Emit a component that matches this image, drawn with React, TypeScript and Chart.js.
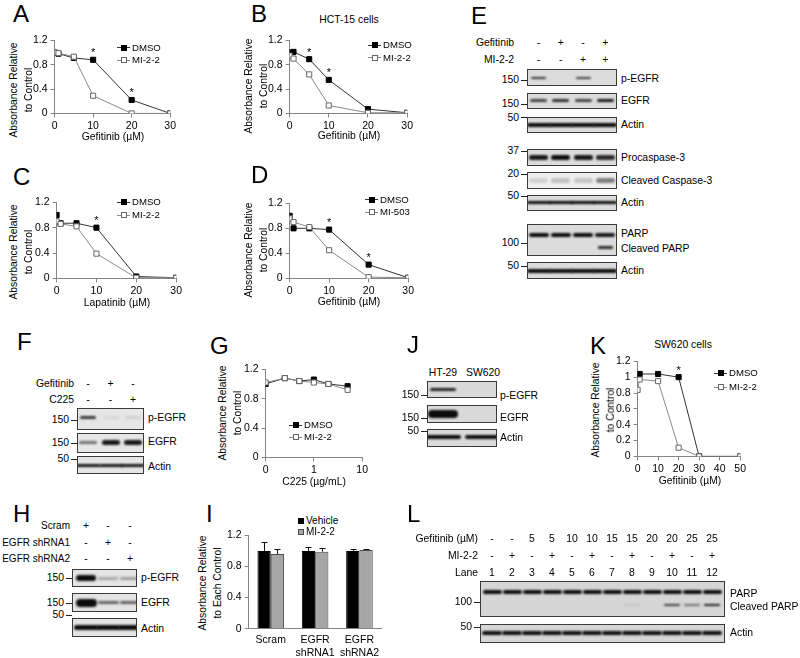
import React, { useEffect, useRef } from "react";
import { Chart, registerables } from "chart.js";
Chart.register(...registerables);

const FONT = "'Liberation Sans', Arial, Helvetica, sans-serif";
Chart.defaults.font.family = FONT;
Chart.defaults.color = "#000";

// ---------------- data ----------------
const Y_MAX = 1.2;
const Y_STEP = 0.2;

const A_X = [0, 1, 5, 10, 20, 30];
const A_DMSO = [1.0, 0.98, 0.91, 0.88, 0.22, 0.0];
const A_MI22 = [1.0, 0.99, 0.93, 0.29, 0.0, 0.0];
const A_STARS = [10, 20];

const B_X = [0, 1, 5, 10, 20, 30];
const B_DMSO = [1.0, 1.01, 0.89, 0.55, 0.07, 0.01];
const B_MI22 = [0.95, 0.9, 0.64, 0.13, 0.01, 0.01];
const B_STARS = [5, 10];

const C_X = [0, 1, 5, 10, 20, 30];
const C_DMSO = [1.0, 0.87, 0.87, 0.8, 0.03, 0.01];
const C_MI22 = [0.9, 0.86, 0.82, 0.39, 0.01, 0.01];
const C_STARS = [10];

const D_X = [0, 1, 5, 10, 20, 30];
const D_DMSO = [1.0, 0.8, 0.8, 0.78, 0.22, 0.01];
const D_MI503 = [0.96, 0.9, 0.82, 0.45, 0.02, 0.01];
const D_STARS = [10, 20];

const G_X = [0, 0.25, 0.5, 1, 2, 5];
const G_DMSO = [1.0, 1.08, 1.04, 1.06, 1.0, 0.97];
const G_MI22 = [1.02, 1.08, 1.04, 1.02, 1.0, 0.92];
const G_AXIS_MIN = 0.1;
const G_AXIS_MAX = 10;
const G_TICKS = [0.1, 1, 10];
const G_TICK_LABELS = ["0", "1", "10"];

const K_X = [0, 1, 10, 20, 30, 50];
const K_DMSO = [1.0, 1.04, 1.04, 1.0, 0.0, 0.0];
const K_MI22 = [0.84, 0.97, 0.95, 0.11, 0.0, 0.0];
const K_STARS = [20];

const I_CATS = [["Scram"], ["EGFR", "shRNA1"], ["EGFR", "shRNA2"]];
const I_VEHICLE = [1.0, 1.0, 1.0];
const I_VEHICLE_ERR = [0.11, 0.05, 0.03];
const I_MI22 = [0.96, 0.99, 1.01];
const I_MI22_ERR = [0.06, 0.05, 0.01];

// blot band intensities (0..1)
const E_GEF = ["-", "+", "-", "+"];
const E_MI = ["-", "-", "+", "+"];
const E_PEGFR = [0.8, 0, 0.75, 0];
const E_EGFR = [0.75, 0.85, 0.75, 0.95];
const E_ACTIN1 = [1, 1, 1, 1];
const E_PROCASP3 = [0.95, 1, 0.95, 0.85];
const E_CLCASP3 = [0.12, 0.2, 0.18, 0.5];
const E_ACTIN2 = [1, 1, 1, 1];
const E_PARP = [1, 1, 1, 0.95];
const E_CLPARP = [0, 0, 0, 0.85];
const E_ACTIN3 = [1, 1, 1, 1];

const F_GEF = ["-", "+", "-"];
const F_C225 = ["-", "-", "+"];
const F_PEGFR = [0.8, 0.07, 0.1];
const F_EGFR = [0.55, 0.95, 0.95];
const F_ACTIN = [0.95, 0.95, 0.95];

const H_SCRAM = ["+", "-", "-"];
const H_SH1 = ["-", "+", "-"];
const H_SH2 = ["-", "-", "+"];
const H_PEGFR = [1, 0.28, 0.32];
const H_EGFR = [1, 0.6, 0.6];
const H_ACTIN = [1, 1, 1];

const J_LINES = ["HT-29", "SW620"];
const J_PEGFR = [0.9, 0];
const J_EGFR = [1, 0];
const J_ACTIN = [1, 1];

const L_GEF = ["-", "-", "5", "5", "10", "10", "15", "15", "20", "20", "25", "25"];
const L_MI = ["-", "+", "-", "+", "-", "+", "-", "+", "-", "+", "-", "+"];
const L_LANE = ["1", "2", "3", "4", "5", "6", "7", "8", "9", "10", "11", "12"];
const L_PARP = [1, 1, 1, 1, 1, 1, 1, 1, 1, 1, 1, 1];
const L_CLPARP = [0, 0, 0, 0, 0, 0, 0, 0.08, 0, 0.75, 0.5, 0.9];
const L_ACTIN = [1, 1, 1, 1, 1, 1, 1, 1, 1, 1, 1, 1];

// ---------------- chart helpers ----------------
const AX = "#858585";
const TICK_FONT = { size: 10.5, family: FONT };

const starPlugin: any = {
  id: "stars",
  afterDatasetsDraw(chart: any, _a: any, opts: any) {
    if (!opts || !opts.xs) return;
    const { ctx } = chart;
    const xs = chart.scales.x;
    const ys = chart.scales.y;
    ctx.save();
    ctx.font = `11px ${FONT}`;
    ctx.fillStyle = "#000";
    ctx.textAlign = "center";
    ctx.textBaseline = "alphabetic";
    for (const xv of opts.xs) {
      let top = -Infinity;
      chart.data.datasets.forEach((ds: any) =>
        ds.data.forEach((p: any) => {
          if (p.x === xv) top = Math.max(top, p.y);
        })
      );
      if (!isFinite(top)) continue;
      ctx.fillText("*", xs.getPixelForValue(xv), ys.getPixelForValue(top) - 3.5);
    }
    ctx.restore();
  },
};

const errPlugin: any = {
  id: "errbars",
  afterDatasetsDraw(chart: any) {
    const { ctx } = chart;
    const ys = chart.scales.y;
    ctx.save();
    ctx.strokeStyle = "#111";
    ctx.lineWidth = 1;
    chart.data.datasets.forEach((ds: any, i: number) => {
      const meta = chart.getDatasetMeta(i);
      meta.data.forEach((bar: any, j: number) => {
        const v = ds.data[j];
        const e = ds.errors[j];
        const x = Math.round(bar.x) + 0.5;
        const y0 = ys.getPixelForValue(v);
        const y1 = Math.round(ys.getPixelForValue(v + e)) + 0.5;
        ctx.beginPath();
        ctx.moveTo(x, y0);
        ctx.lineTo(x, y1);
        ctx.moveTo(x - 3, y1);
        ctx.lineTo(x + 3, y1);
        ctx.stroke();
      });
    });
    ctx.restore();
  },
};

function yScale(): any {
  return {
    type: "linear",
    min: 0,
    max: Y_MAX,
    ticks: {
      stepSize: Y_STEP,
      font: TICK_FONT,
      color: "#000",
      padding: 3,
      callback: (v: number) => String(Math.round(v * 10) / 10),
    },
    grid: { drawOnChartArea: false, drawTicks: true, tickLength: 4, color: AX, tickColor: AX },
    border: { display: true, color: AX, width: 1 },
  };
}

function linXScale(min: number, max: number, step: number): any {
  return {
    type: "linear",
    min,
    max,
    ticks: { stepSize: step, font: TICK_FONT, color: "#000", padding: 2 },
    grid: { drawOnChartArea: false, drawTicks: true, tickLength: 4, color: AX, tickColor: AX },
    border: { display: true, color: AX, width: 1 },
  };
}

function logXScale(): any {
  return {
    type: "logarithmic",
    min: G_AXIS_MIN,
    max: G_AXIS_MAX,
    afterBuildTicks: (axis: any) => {
      axis.ticks = G_TICKS.map((v) => ({ value: v }));
    },
    ticks: {
      font: TICK_FONT,
      color: "#000",
      padding: 2,
      callback: (v: number) => {
        const k = G_TICKS.findIndex((t) => Math.abs(t - v) < 1e-9);
        return k >= 0 ? G_TICK_LABELS[k] : "";
      },
    },
    grid: { drawOnChartArea: false, drawTicks: true, tickLength: 4, color: AX, tickColor: AX },
    border: { display: true, color: AX, width: 1 },
  };
}

function lineConfig(xs: number[], dmso: number[], other: number[], xScale: any, stars: number[], mapX?: (x: number) => number) {
  const mx = mapX || ((x: number) => x);
  const pts = (ys: number[]) => xs.map((x, i) => ({ x: mx(x), y: ys[i] }));
  return {
    type: "line",
    data: {
      datasets: [
        {
          label: "treated",
          data: pts(other),
          borderColor: "#8a8a8a",
          borderWidth: 1,
          pointStyle: "rect",
          pointRadius: 3.6,
          pointBackgroundColor: "#fff",
          pointBorderColor: "#666",
          pointBorderWidth: 1,
          tension: 0,
        },
        {
          label: "DMSO",
          data: pts(dmso),
          borderColor: "#333",
          borderWidth: 1,
          pointStyle: "rect",
          pointRadius: 3.6,
          pointBackgroundColor: "#000",
          pointBorderColor: "#000",
          pointBorderWidth: 1,
          tension: 0,
        },
      ],
    },
    options: {
      responsive: false,
      maintainAspectRatio: false,
      animation: false,
      events: [],
      layout: { padding: 0 },
      plugins: { legend: { display: false }, tooltip: { enabled: false }, stars: { xs: stars } },
      scales: { x: xScale, y: yScale() },
    },
    plugins: [starPlugin],
  };
}

function barConfig() {
  return {
    type: "bar",
    data: {
      labels: I_CATS,
      datasets: [
        {
          label: "Vehicle",
          data: I_VEHICLE,
          errors: I_VEHICLE_ERR,
          backgroundColor: "#000",
          borderColor: "#000",
          borderWidth: 1,
          barPercentage: 1,
          categoryPercentage: 0.6,
        },
        {
          label: "MI-2-2",
          data: I_MI22,
          errors: I_MI22_ERR,
          backgroundColor: "#a6a6a6",
          borderColor: "#4a4a4a",
          borderWidth: 1,
          barPercentage: 1,
          categoryPercentage: 0.6,
        },
      ],
    },
    options: {
      responsive: false,
      maintainAspectRatio: false,
      animation: false,
      events: [],
      layout: { padding: 0 },
      plugins: { legend: { display: false }, tooltip: { enabled: false } },
      scales: {
        x: {
          type: "category",
          grid: { display: false, drawTicks: false },
          border: { display: true, color: AX, width: 1 },
          ticks: { font: { size: 10.5, family: FONT, lineHeight: 1.25 }, color: "#000", padding: 5, maxRotation: 0 },
        },
        y: yScale(),
      },
    },
    plugins: [errPlugin],
  };
}

type Area = { x: number; y: number; w: number; h: number };

function ChartBox({ area, make }: { area: Area; make: () => any }) {
  const wrapRef = useRef<HTMLDivElement>(null);
  const cvRef = useRef<HTMLCanvasElement>(null);
  useEffect(() => {
    const cv = cvRef.current as HTMLCanvasElement;
    const wrap = wrapRef.current as HTMLDivElement;
    const chart: any = new Chart(cv, make());
    for (let i = 0; i < 4; i++) {
      const ca = chart.chartArea;
      const dw = area.w - (ca.right - ca.left);
      const dh = area.h - (ca.bottom - ca.top);
      if (Math.abs(dw) < 0.5 && Math.abs(dh) < 0.5) break;
      chart.resize(Math.round(chart.width + dw), Math.round(chart.height + dh));
    }
    const ca = chart.chartArea;
    wrap.style.left = `${area.x - ca.left}px`;
    wrap.style.top = `${area.y - ca.top}px`;
    return () => chart.destroy();
  }, []);
  return (
    <div ref={wrapRef} style={{ position: "absolute", left: 0, top: 0 }}>
      <canvas ref={cvRef} width={area.w + 60} height={area.h + 40} />
    </div>
  );
}

// ---------------- html helpers ----------------
function T({ x, y, a = "l", s = 10.4, children }: any) {
  const tx = a === "l" ? "0" : a === "c" ? "-50%" : "-100%";
  return (
    <div
      style={{
        position: "absolute",
        left: x,
        top: y,
        transform: `translate(${tx},-50%)`,
        fontSize: s,
        lineHeight: 1,
        whiteSpace: "nowrap",
        fontFamily: FONT,
        color: "#000",
      }}
    >
      {children}
    </div>
  );
}

function Letter({ x, y, children }: any) {
  return (
    <T x={x} y={y} s={24}>
      {children}
    </T>
  );
}

function VTitle({ xs, y, lines, s = 10.3 }: any) {
  return (
    <>
      {lines.map((t: string, i: number) => (
        <div
          key={i}
          style={{
            position: "absolute",
            left: xs[i],
            top: y,
            transform: "translate(-50%,-50%) rotate(-90deg)",
            fontSize: s,
            lineHeight: 1,
            whiteSpace: "nowrap",
            fontFamily: FONT,
          }}
        >
          {t}
        </div>
      ))}
    </>
  );
}

function Leg({ x, y, rows, dy = 13 }: any) {
  return (
    <>
      {rows.map((r: any, i: number) => {
        const cy = y + i * dy;
        return (
          <React.Fragment key={i}>
            <div style={{ position: "absolute", left: x - 15, top: cy - 0.5, width: 13, height: 1, background: r.filled ? "#333" : "#8a8a8a" }} />
            <div
              style={{
                position: "absolute",
                left: x - 11.5,
                top: cy - 3,
                width: 6,
                height: 6,
                boxSizing: "border-box",
                background: r.filled ? "#000" : "#fff",
                border: `1px solid ${r.filled ? "#000" : "#666"}`,
              }}
            />
            <T x={x} y={cy} s={9.6}>
              {r.label}
            </T>
          </React.Fragment>
        );
      })}
    </>
  );
}

function lanes(x0: number, dx: number, n: number) {
  return Array.from({ length: n }, (_, i) => x0 + i * dx);
}

function Blot({ x, y, w, h, bg = "#dcdcdc", centers, bands }: any) {
  return (
    <div
      style={{
        position: "absolute",
        left: x,
        top: y,
        width: w,
        height: h,
        boxSizing: "border-box",
        border: "1px solid #3a3a3a",
        background: bg,
        overflow: "hidden",
      }}
    >
      {bands.map((b: any, bi: number) =>
        b.v.map((v: number, i: number) => {
          if (v <= 0.01) return null;
          const t = Array.isArray(b.t) ? b.t[i] : b.t;
          return (
            <div
              key={`${bi}-${i}`}
              style={{
                position: "absolute",
                left: centers[i] - b.w / 2 - x - 1,
                top: b.y - t / 2 - y - 1,
                width: b.w,
                height: t,
                borderRadius: t / 2,
                background: `rgba(12,12,12,${v})`,
                filter: "blur(0.8px)",
              }}
            />
          );
        })
      )}
    </div>
  );
}

function Mw({ bx, y, label }: any) {
  return (
    <>
      <T x={bx - 8} y={y} a="r">
        {label}
      </T>
      <div style={{ position: "absolute", left: bx - 6, top: y - 0.5, width: 6, height: 1, background: "#222" }} />
    </>
  );
}

function Signs({ centers, y, vals, s = 10.4 }: any) {
  return (
    <>
      {vals.map((v: string, i: number) => (
        <T key={i} x={centers[i]} y={y} a="c" s={s}>
          {v}
        </T>
      ))}
    </>
  );
}

// ---------------- layout ----------------
const A_AREA = { x: 55, y: 40, w: 116, h: 73 };
const B_AREA = { x: 290, y: 40, w: 118, h: 73 };
const C_AREA = { x: 57, y: 202, w: 120, h: 76 };
const D_AREA = { x: 290, y: 203, w: 119, h: 75 };
const G_AREA = { x: 266, y: 369, w: 97, h: 88 };
const K_AREA = { x: 638, y: 361, w: 103, h: 95 };
const I_AREA = { x: 249, y: 535, w: 133, h: 93 };

const TITLE2 = ["Absorbance Relative", "to Control"];

export default function App() {
  const eC = lanes(538.5, 22.3, 4);
  const fC = lanes(88, 22.5, 3);
  const hC = lanes(86, 22, 3);
  const jC = lanes(443, 40, 2);
  const lC = lanes(492, 20, 12);

  return (
    <div
      style={{
        position: "absolute",
        left: 0,
        top: 0,
        width: 800,
        height: 658,
        background: "#fff",
        overflow: "hidden",
        fontFamily: FONT,
      }}
    >
      {/* ---------- A ---------- */}
      <Letter x={13} y={14}>A</Letter>
      <ChartBox area={A_AREA} make={() => lineConfig(A_X, A_DMSO, A_MI22, linXScale(0, 30, 10), A_STARS)} />
      <VTitle xs={[14, 29]} y={90} lines={TITLE2} />
      <T x={113} y={137} a="c">Gefitinib (µM)</T>
      <Leg x={132} y={47.5} dy={12.5} rows={[{ label: "DMSO", filled: true }, { label: "MI-2-2", filled: false }]} />

      {/* ---------- B ---------- */}
      <Letter x={251} y={14}>B</Letter>
      <T x={349} y={20} a="c">HCT-15 cells</T>
      <ChartBox area={B_AREA} make={() => lineConfig(B_X, B_DMSO, B_MI22, linXScale(0, 30, 10), B_STARS)} />
      <VTitle xs={[249, 264]} y={86} lines={TITLE2} />
      <T x={349} y={136} a="c">Gefitinib (µM)</T>
      <Leg x={383} y={45} dy={12.5} rows={[{ label: "DMSO", filled: true }, { label: "MI-2-2", filled: false }]} />

      {/* ---------- C ---------- */}
      <Letter x={13} y={177}>C</Letter>
      <ChartBox area={C_AREA} make={() => lineConfig(C_X, C_DMSO, C_MI22, linXScale(0, 30, 10), C_STARS)} />
      <VTitle xs={[14, 29]} y={252} lines={TITLE2} />
      <T x={117} y={303} a="c">Lapatinib (µM)</T>
      <Leg x={132} y={202} dy={13} rows={[{ label: "DMSO", filled: true }, { label: "MI-2-2", filled: false }]} />

      {/* ---------- D ---------- */}
      <Letter x={251} y={175}>D</Letter>
      <ChartBox area={D_AREA} make={() => lineConfig(D_X, D_DMSO, D_MI503, linXScale(0, 30, 10), D_STARS)} />
      <VTitle xs={[249, 264]} y={250} lines={TITLE2} />
      <T x={349} y={302} a="c">Gefitinib (µM)</T>
      <Leg x={380} y={199.5} dy={12.5} rows={[{ label: "DMSO", filled: true }, { label: "MI-503", filled: false }]} />

      {/* ---------- E ---------- */}
      <Letter x={471} y={16}>E</Letter>
      <T x={514} y={43} a="r">Gefitinib</T>
      <T x={514} y={60} a="r">MI-2-2</T>
      <Signs centers={eC} y={43} vals={E_GEF} />
      <Signs centers={eC} y={60} vals={E_MI} />
      <Blot x={527} y={69} w={90} h={17} centers={eC} bands={[{ y: 78, v: E_PEGFR, t: 2.5, w: 15 }]} />
      <Blot x={527} y={93} w={90} h={16} centers={eC} bands={[{ y: 100.5, v: E_EGFR, t: 3.5, w: 17 }]} />
      <Blot x={527} y={117} w={90} h={16} centers={eC} bands={[{ y: 125, v: E_ACTIN1, t: 4, w: 24 }]} />
      <Blot x={527} y={149} w={90} h={17} centers={eC} bands={[{ y: 157.5, v: E_PROCASP3, t: 4.5, w: 19 }]} />
      <Blot x={527} y={172} w={90} h={17} bg="#efefef" centers={eC} bands={[{ y: 180.5, v: E_CLCASP3, t: 5, w: 19 }]} />
      <Blot x={527} y={195} w={90} h={16} centers={eC} bands={[{ y: 202.5, v: E_ACTIN2, t: 3.5, w: 24 }]} />
      <Blot
        x={527}
        y={224}
        w={90}
        h={32}
        centers={eC}
        bands={[
          { y: 235, v: E_PARP, t: 4.5, w: 20 },
          { y: 247.5, v: E_CLPARP, t: 2.5, w: 15 },
        ]}
      />
      <Blot x={527} y={262} w={90} h={17} centers={eC} bands={[{ y: 270.5, v: E_ACTIN3, t: 4, w: 24 }]} />
      <Mw bx={527} y={80} label="150" />
      <Mw bx={527} y={104} label="150" />
      <Mw bx={527} y={117.5} label="50" />
      <Mw bx={527} y={151} label="37" />
      <Mw bx={527} y={174} label="20" />
      <Mw bx={527} y={196} label="50" />
      <Mw bx={527} y={243} label="100" />
      <Mw bx={527} y={266} label="50" />
      <T x={621} y={79}>p-EGFR</T>
      <T x={621} y={101}>EGFR</T>
      <T x={621} y={125}>Actin</T>
      <T x={621} y={158}>Procaspase-3</T>
      <T x={621} y={181}>Cleaved Caspase-3</T>
      <T x={621} y={203}>Actin</T>
      <T x={621} y={234}>PARP</T>
      <T x={621} y={249}>Cleaved PARP</T>
      <T x={621} y={271}>Actin</T>

      {/* ---------- F ---------- */}
      <Letter x={17} y={342}>F</Letter>
      <T x={74} y={384} a="r">Gefitinib</T>
      <T x={74} y={400} a="r">C225</T>
      <Signs centers={fC} y={384} vals={F_GEF} />
      <Signs centers={fC} y={400} vals={F_C225} />
      <Blot x={77} y={408} w={67} h={22} bg="#e6e6e6" centers={fC} bands={[{ y: 417, v: F_PEGFR, t: 3, w: 16 }]} />
      <Blot x={77} y={433} w={67} h={20} bg="#e6e6e6" centers={fC} bands={[{ y: 442, v: F_EGFR, t: [3, 5, 5], w: 18 }]} />
      <Blot x={77} y={456} w={67} h={18} bg="#e6e6e6" centers={fC} bands={[{ y: 465, v: F_ACTIN, t: 3, w: 24 }]} />
      <Mw bx={77} y={420} label="150" />
      <Mw bx={77} y={443} label="150" />
      <Mw bx={77} y={459} label="50" />
      <T x={148} y={418}>p-EGFR</T>
      <T x={148} y={442}>EGFR</T>
      <T x={148} y={467}>Actin</T>

      {/* ---------- G ---------- */}
      <Letter x={210} y={346}>G</Letter>
      <ChartBox
        area={G_AREA}
        make={() => lineConfig(G_X, G_DMSO, G_MI22, logXScale(), [], (x) => (x === 0 ? G_AXIS_MIN : x))}
      />
      <VTitle xs={[223, 238]} y={413} lines={TITLE2} />
      <T x={314} y={482} a="c">C225 (µg/mL)</T>
      <Leg x={304} y={425} dy={12} rows={[{ label: "DMSO", filled: true }, { label: "MI-2-2", filled: false }]} />

      {/* ---------- J ---------- */}
      <Letter x={407} y={345}>J</Letter>
      <Signs centers={jC} y={373} vals={J_LINES} />
      <Blot x={427} y={381} w={70} h={17} bg="#dadada" centers={jC} bands={[{ y: 389.5, v: J_PEGFR, t: 3.5, w: 26 }]} />
      <Blot x={427} y={405} w={70} h={18} bg="#dadada" centers={jC} bands={[{ y: 413.5, v: J_EGFR, t: 8, w: 30 }]} />
      <Blot x={427} y={429} w={70} h={18} bg="#dadada" centers={jC} bands={[{ y: 437, v: J_ACTIN, t: 4.5, w: 36 }]} />
      <Mw bx={427} y={395} label="150" />
      <Mw bx={427} y={418} label="150" />
      <Mw bx={427} y={431} label="50" />
      <T x={500} y={396}>p-EGFR</T>
      <T x={500} y={418}>EGFR</T>
      <T x={500} y={438}>Actin</T>

      {/* ---------- K ---------- */}
      <Letter x={590} y={346}>K</Letter>
      <T x={683} y={345} a="c">SW620 cells</T>
      <ChartBox area={K_AREA} make={() => lineConfig(K_X, K_DMSO, K_MI22, linXScale(0, 50, 10), K_STARS)} />
      <VTitle xs={[596, 611]} y={410} lines={TITLE2} />
      <T x={690} y={481} a="c">Gefitinib (µM)</T>
      <Leg x={729} y={373} dy={14} rows={[{ label: "DMSO", filled: true }, { label: "MI-2-2", filled: false }]} />

      {/* ---------- H ---------- */}
      <Letter x={13} y={514}>H</Letter>
      <T x={70} y={526} a="r" s={10}>Scram</T>
      <T x={70} y={543} a="r" s={10}>EGFR shRNA1</T>
      <T x={70} y={559} a="r" s={10}>EGFR shRNA2</T>
      <Signs centers={hC} y={526} vals={H_SCRAM} />
      <Signs centers={hC} y={543} vals={H_SH1} />
      <Signs centers={hC} y={559} vals={H_SH2} />
      <Blot x={72} y={569} w={65} h={18} bg="#e4e4e4" centers={hC} bands={[{ y: 578, v: H_PEGFR, t: [6, 3, 3], w: 20 }]} />
      <Blot x={72} y={593} w={65} h={19} bg="#e4e4e4" centers={hC} bands={[{ y: 602.5, v: H_EGFR, t: [8, 3, 3], w: 21 }]} />
      <Blot x={72} y={618} w={65} h={19} bg="#e4e4e4" centers={hC} bands={[{ y: 627.5, v: H_ACTIN, t: 5, w: 24 }]} />
      <Mw bx={72} y={578} label="150" />
      <Mw bx={72} y={603} label="150" />
      <Mw bx={72} y={615} label="50" />
      <T x={141} y={578}>p-EGFR</T>
      <T x={141} y={603}>EGFR</T>
      <T x={141} y={629}>Actin</T>

      {/* ---------- I ---------- */}
      <Letter x={206} y={514}>I</Letter>
      <ChartBox area={I_AREA} make={barConfig} />
      <VTitle xs={[203, 218]} y={583} lines={["Absorbance Relative", "to Each Control"]} />
      <div style={{ position: "absolute", left: 298, top: 518, width: 6, height: 6, background: "#000" }} />
      <T x={306} y={521} s={10}>Vehicle</T>
      <div
        style={{
          position: "absolute",
          left: 298,
          top: 529,
          width: 6,
          height: 6,
          boxSizing: "border-box",
          background: "#a6a6a6",
          border: "1px solid #4a4a4a",
        }}
      />
      <T x={306} y={532} s={10}>MI-2-2</T>

      {/* ---------- L ---------- */}
      <Letter x={407} y={514}>L</Letter>
      <T x={478} y={539} a="r">Gefitinib (µM)</T>
      <T x={478} y={556} a="r">MI-2-2</T>
      <T x={478} y={573} a="r">Lane</T>
      <Signs centers={lC} y={539} vals={L_GEF} />
      <Signs centers={lC} y={556} vals={L_MI} />
      <Signs centers={lC} y={573} vals={L_LANE} />
      <Blot
        x={480}
        y={581}
        w={245}
        h={36}
        bg="#d6d6d6"
        centers={lC}
        bands={[
          { y: 592, v: L_PARP, t: 4.5, w: 19 },
          { y: 605, v: L_CLPARP, t: 2.5, w: 16 },
        ]}
      />
      <Blot x={480} y={624} w={245} h={19} bg="#d6d6d6" centers={lC} bands={[{ y: 633, v: L_ACTIN, t: 4, w: 20 }]} />
      <Mw bx={480} y={602} label="100" />
      <Mw bx={480} y={627} label="50" />
      <T x={730} y={594}>PARP</T>
      <T x={730} y={607}>Cleaved PARP</T>
      <T x={730} y={633}>Actin</T>
    </div>
  );
}
